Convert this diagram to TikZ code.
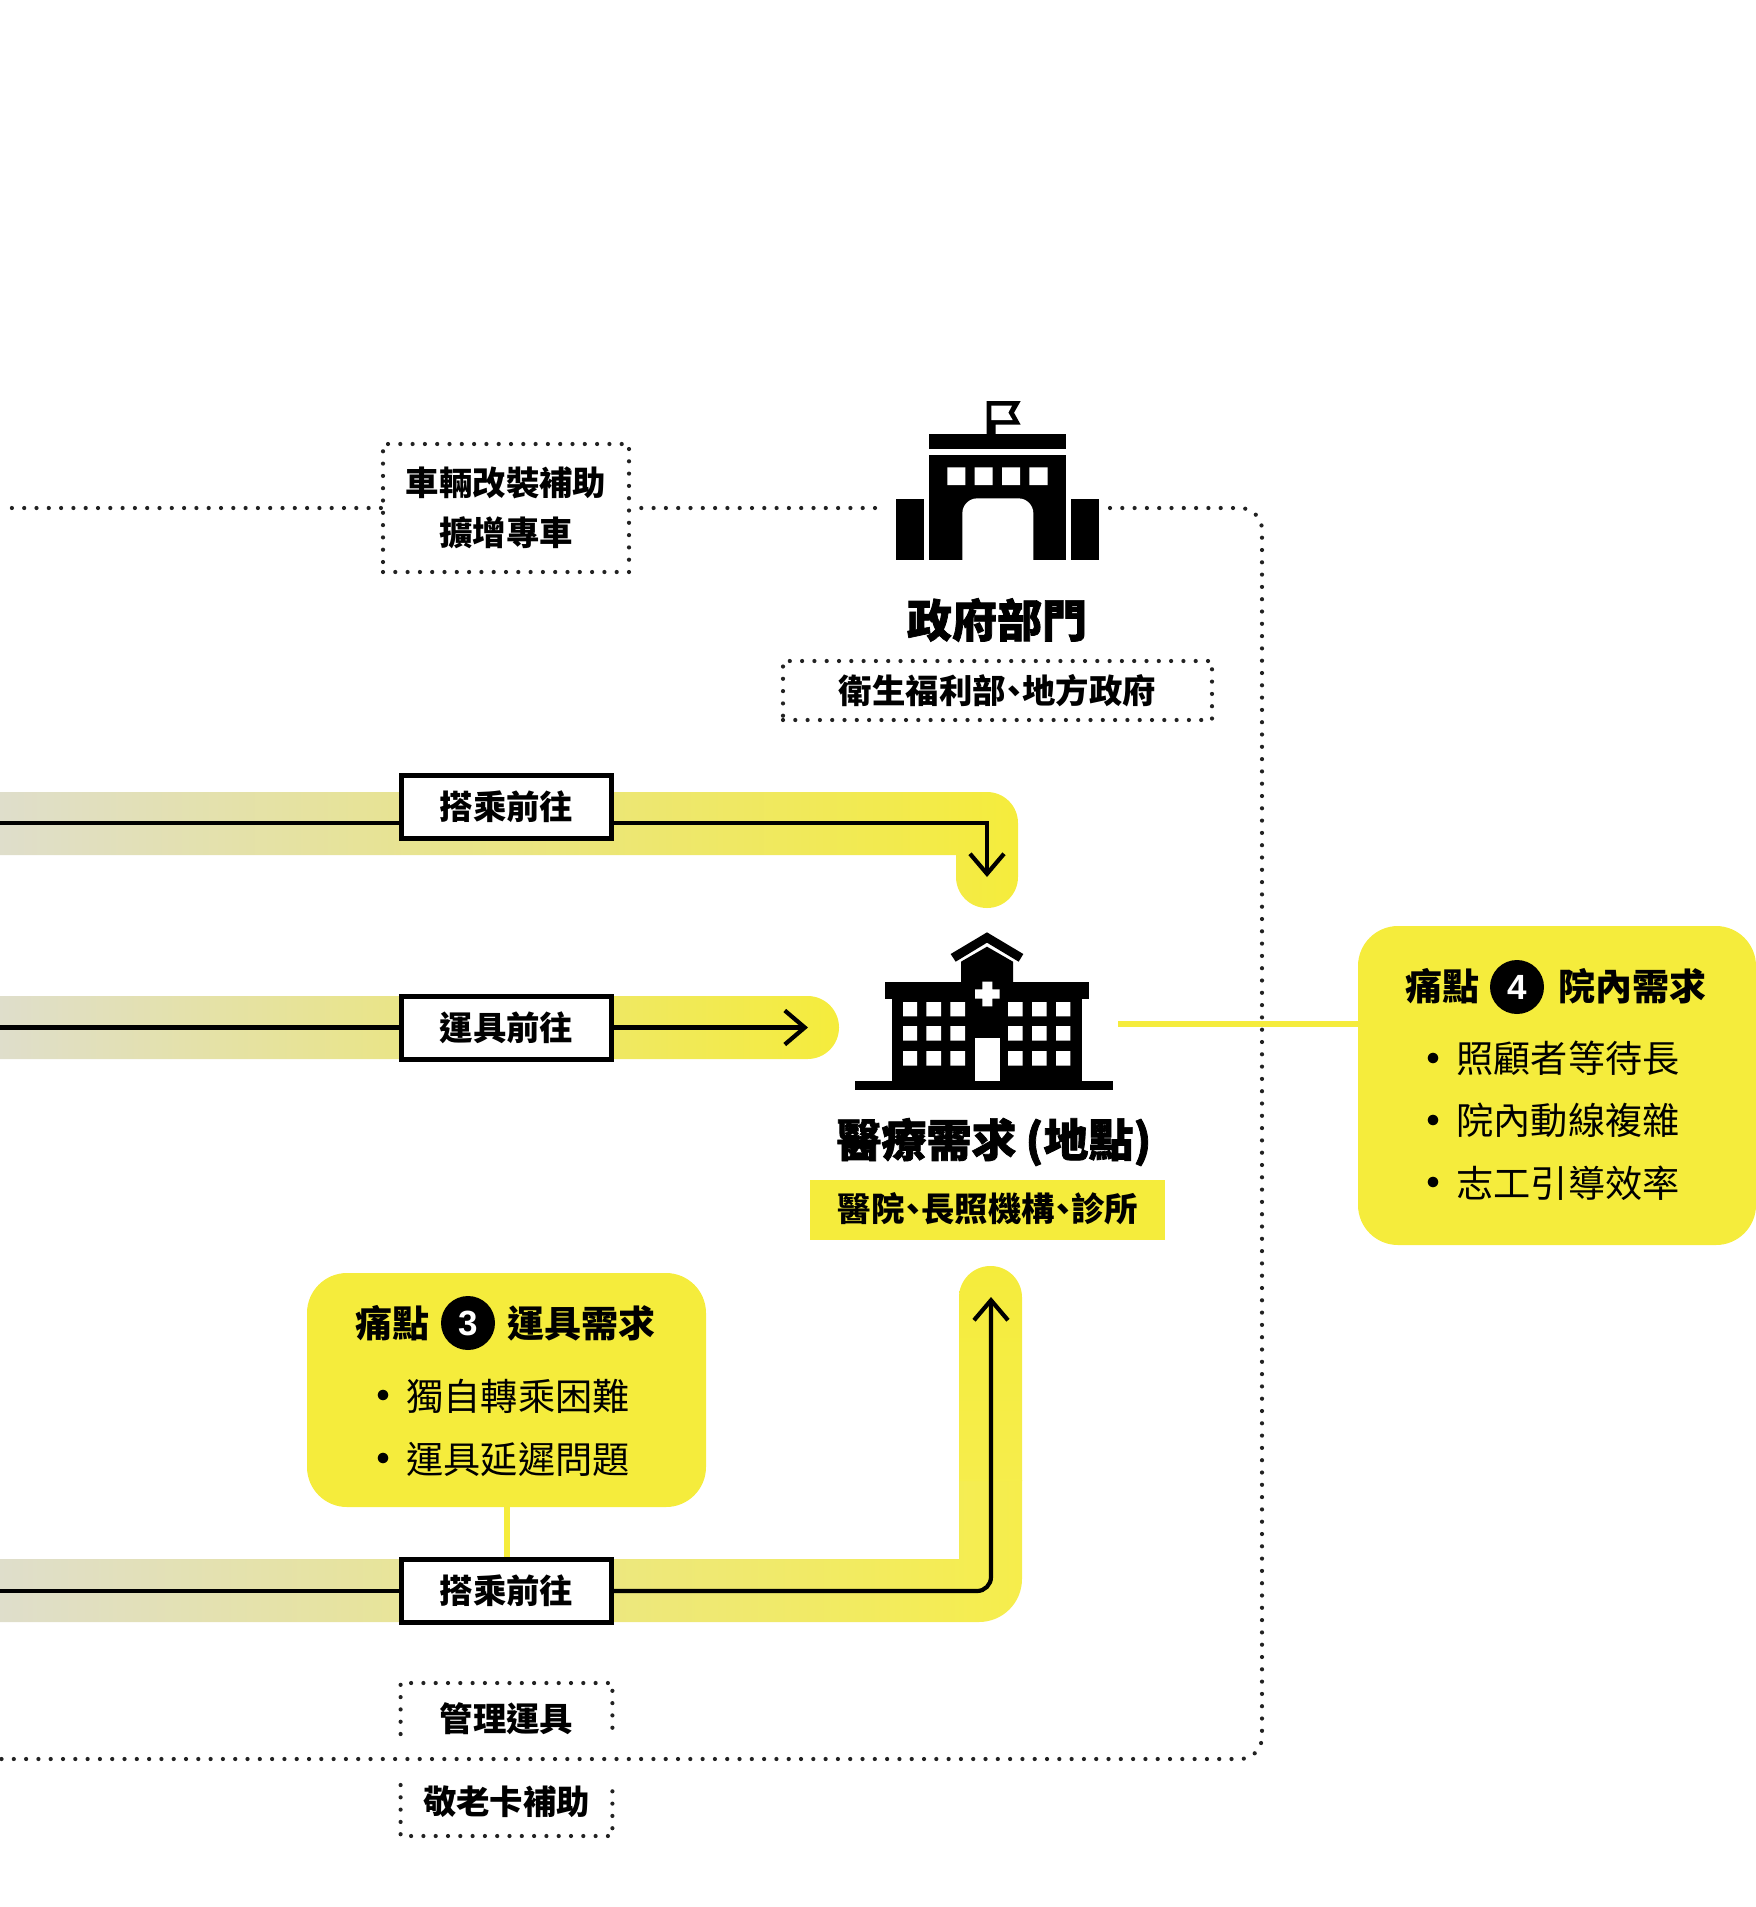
\documentclass[tikz,border=0pt]{standalone}
\usepackage{fontspec}
\usetikzlibrary{arrows.meta}
\setmainfont{Noto Sans CJK TC}
\newfontfamily\heavyfont[FakeBold=1.6]{Noto Sans CJK TC}
\newfontfamily\digitfont{Liberation Sans}
\definecolor{markyellow}{HTML}{F5EC3C}
\definecolor{fadegray}{HTML}{DFDECB}
\definecolor{dotgray}{HTML}{222222}
\newcommand{\pause}{\kern-.25em、\kern-.25em}
\newcommand{\painitem}[1]{\makebox[0pt][r]{\raisebox{-2.2pt}[0pt][0pt]{\fontsize{25}{25}\selectfont\textbullet}\hspace{-1.2pt}}#1}
\tikzset{
    dotline/.style={draw=dotgray, line width=2.1pt, line cap=round, dash pattern=on 0pt off 6.15pt},
    bandfill/.style={left color=fadegray, right color=markyellow},
    flowline/.style={line width=2.1pt, black},
    flowarrow/.style={flowline, -{Straight Barb[length=10pt, width=17pt, line width=2.1pt]}},
    painlink/.style={line width=3pt, markyellow},
    boldlabel/.style={font=\bfseries\fontsize{16.7}{25}\selectfont, align=center, inner sep=0pt},
    titlelabel/.style={font=\heavyfont\bfseries\fontsize{22.5}{28}\selectfont, inner sep=0pt},
    routebox/.style={boldlabel, draw=black, fill=white, line width=2.5pt, minimum width=105pt, minimum height=31.5pt},
    painbox/.style={fill=markyellow, rounded corners=20pt, inner sep=0pt},
    painhead/.style={font=\bfseries\fontsize{18.5}{22}\selectfont, inner sep=0pt},
    painitemtext/.style={font=\fontsize{18.6}{22}\selectfont, inner sep=0pt, anchor=west},
    painnumber/.style={circle, fill=black, text=white, minimum size=27pt, inner sep=0pt, font=\digitfont\bfseries\fontsize{17.5}{20}\selectfont},
}
\begin{document}
\begin{tikzpicture}[x=0.5pt, y=-0.5pt]
        \useasboundingbox (0,0) rectangle (1756,1907);

        \coordinate (fundW) at (0,508);
        \coordinate (govW) at (875,508);
        \coordinate (govE) at (1110,508);
        \coordinate (fundBend) at (1262,508);
        \coordinate (fundS) at (1262,1759);
        \coordinate (fundEnd) at (0,1759);
        \coordinate (startA) at (0,823);
        \coordinate (tipA) at (987,877);
        \coordinate (startB) at (0,1027.5);
        \coordinate (tipB) at (808,1027.5);
        \coordinate (startC) at (0,1591);
        \coordinate (tipC) at (991,1297);
        \coordinate (careEnd) at (1118,1024);

        % bands
        \path[bandfill] (0,792) [rounded corners=15.5pt] -- (1018,792) -- (1018,908) -- (956,908) [sharp corners] -- (956,855) -- (0,855) -- cycle;
        \path[bandfill] (0,996) [rounded corners=15.7pt] -- (839,996) -- (839,1059) [sharp corners] -- (0,1059) -- cycle;
        \path[left color=fadegray, right color=markyellow!92!white] (0,1559) -- (959,1559) -- (959,1480) -- (1022,1480) [rounded corners=21.5pt] -- (1022,1622) [sharp corners] -- (0,1622) -- cycle;
        \path[bottom color=markyellow!92!white, top color=markyellow] (959,1481) [rounded corners=15.7pt] -- (959,1266) -- (1022,1266) [sharp corners] -- (1022,1481) -- cycle;

        % boxes on the bands
        \node[routebox] (rideA) at (506.5,807) {搭乘前往};
        \node[routebox] (driveB) at (506.5,1027.5) {運具前往};
        \node[routebox] (rideC) at (506.5,1591) {搭乘前往};

        \draw[flowline] (startA) -- (rideA.west |- startA);
        \draw[flowarrow] (rideA.east |- startA) -| (tipA);
        \draw[flowline] (startB) -- (driveB.west);
        \draw[flowarrow] (driveB.east) -- (tipB);
        \draw[flowline] (startC) -- (rideC.west);
        \draw[flowarrow, rounded corners=7pt] (rideC.east) -| (tipC);

        % funding line
        \node[boldlabel, dotline, minimum width=123pt, minimum height=64pt] (subsidy) at (506,508) {車輛改裝補助\\擴增專車};
        \node[boldlabel, minimum width=105.5pt, minimum height=30pt] (fleet) at (506.5,1719) {管理運具};
        \node[boldlabel, minimum width=105.5pt, minimum height=25pt] (card) at (506.5,1802) {敬老卡補助};
        \draw[dotline] (subsidy.west) -- (fundW);
        \draw[dotline] (govW) -- (subsidy.east);
        \draw[dotline, rounded corners=11pt] (govE) -- (fundBend) -- (fundS) -- (fundEnd);
        \draw[dotline] (fleet.west |- 0,1734) |- (fleet.east |- 0,1683) -- (fleet.east |- 0,1734);
        \draw[dotline] (card.west |- 0,1785) |- (card.east |- 0,1836) -- (card.east |- 0,1785);

        % government icon
        \begin{scope}[shift={(820,380)}, scale=1/3]
            \fill (500,63) -- (602,63) -- (582,98) -- (602,134) -- (527,134) -- (527,165) -- (500,165) -- cycle;
            \fill[white] (514,77) -- (576,77) -- (565,98) -- (578,120) -- (514,120) -- cycle;
            \fill (327,162) rectangle (738,207);
            \fill (327,225) rectangle (738,540);
            \fill (228,356) rectangle (312,540);
            \fill (752,356) rectangle (836,540);
            \fill[white] (382,262) rectangle (436,315) (464,262) rectangle (518,315) (546,262) rectangle (600,315) (628,262) rectangle (683,315);
            \fill[white, rounded corners=7.5pt] (427,620) -- (427,355) -- (640,355) -- (640,620) -- cycle;
            \fill[white] (420,541) rectangle (650,625);
        \end{scope}
        \node[titlelabel] (gov) at (997,620) {政府部門};
        \node[boldlabel, dotline, minimum width=214.5pt, minimum height=29.5pt] (govList) at (997.5,690.5) {衛生福利部\pause 地方政府};

        % hospital icon
        \begin{scope}[shift={(780,900)}, scale=1/3]
            \fill (621,97) -- (730,162) -- (716,185) -- (621,128) -- (527,185) -- (512,162) -- cycle;
            \fill (543,246) -- (543,185) -- (621,140) -- (699,185) -- (699,246) -- cycle;
            \fill (316,246) rectangle (926,297);
            \fill (336,297) rectangle (906,543);
            \fill (225,543) rectangle (998,570);
            \fill[white] (369,306) rectangle (411,349) (439,306) rectangle (483,349) (511,306) rectangle (555,349) (684,306) rectangle (728,349) (756,306) rectangle (800,349) (828,306) rectangle (871,349);
            \fill[white] (369,378) rectangle (411,422) (439,378) rectangle (483,422) (511,378) rectangle (555,422) (684,378) rectangle (728,422) (756,378) rectangle (800,422) (828,378) rectangle (871,422);
            \fill[white] (369,453) rectangle (411,497) (439,453) rectangle (483,497) (511,453) rectangle (555,497) (684,453) rectangle (728,497) (756,453) rectangle (800,497) (828,453) rectangle (871,497);
            \fill[white] (585,415) rectangle (659,543);
            \fill[white] (585,268) rectangle (659,296) (607,245) rectangle (637,319);
        \end{scope}
        \node[titlelabel] (care) at (994,1142) {醫療需求\kern.2em(地點)};
        \node[boldlabel, fill=markyellow, minimum width=177.5pt, minimum height=30pt] (careList) at (987.5,1210) {};
        \node[boldlabel] (careText) at (988,1208.5) {醫院\pause 長照機構\pause 診所};

        % pain point 3
        \node[painbox, minimum width=199.5pt, minimum height=117pt] (painC) at (506.5,1390) {};
        \node[painhead] (painCa) at (392.5,1323) {痛點};
        \node[painnumber] (painCn) at (468,1323) {3};
        \node[painhead] (painCb) at (581,1323) {運具需求};
        \node[painitemtext] (painCi) at (406,1396) {\painitem{獨自轉乘困難}};
        \node[painitemtext] (painCj) at (406,1459.5) {\painitem{運具延遲問題}};
        \draw[painlink] (painC.south) -- (rideC.north);

        % pain point 4
        \node[painbox, minimum width=199pt, minimum height=159.5pt] (painD) at (1557,1085.5) {};
        \node[painhead] (painDa) at (1442.5,986) {痛點};
        \node[painnumber] (painDn) at (1517,987) {4};
        \node[painhead] (painDb) at (1632,986) {院內需求};
        \node[painitemtext] (painDi) at (1456,1058.5) {\painitem{照顧者等待長}};
        \node[painitemtext] (painDj) at (1456,1120.5) {\painitem{院內動線複雜}};
        \node[painitemtext] (painDk) at (1456,1183) {\painitem{志工引導效率}};
        \draw[painlink] (careEnd) -- (painD.west |- careEnd);
    \end{tikzpicture}
\end{document}
